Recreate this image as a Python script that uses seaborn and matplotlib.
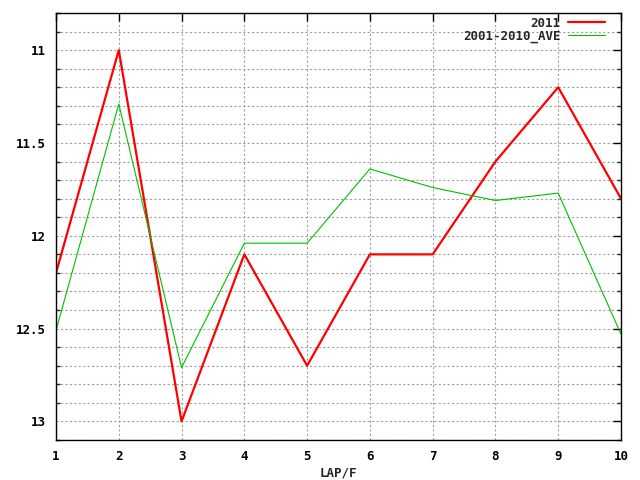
"""
Lap-by-lap values for 2011 against the 2001-2010 average (gnuplot-style chart).
"""

## Import packages
import pandas as pd
import matplotlib
matplotlib.use('Agg')
import matplotlib.pyplot as plt
import seaborn as sns
from matplotlib.ticker import MultipleLocator


## Data
laps = [1, 2, 3, 4, 5, 6, 7, 8, 9, 10]
vals_2011 = [12.2, 11.0, 13.0, 12.1, 12.7, 12.1, 12.1, 11.6, 11.2, 11.8]
vals_ave = [12.51, 11.29, 12.71, 12.04, 12.04, 11.64, 11.74, 11.81, 11.77, 12.53]

df = pd.DataFrame({
    'LAP/F': laps * 2,
    'value': vals_2011 + vals_ave,
    'series': ['2011'] * len(laps) + ['2001-2010_AVE'] * len(laps),
})


## Theme
sns.set_theme(style='white')
plt.rcParams['font.family'] = ['DejaVu Sans Mono', 'DejaVu Sans']
plt.rcParams['font.weight'] = 'bold'
fs = 9

fig = plt.figure(figsize=(6.4, 4.8), dpi=100)
ax = fig.add_axes([56 / 640, 40 / 480, 565 / 640, 427 / 480])

# Lines
sns.lineplot(data=df[df['series'] == '2011'], x='LAP/F', y='value',
             color='#ff0000', linewidth=1.6, label='2011', ax=ax)
sns.lineplot(data=df[df['series'] == '2001-2010_AVE'], x='LAP/F', y='value',
             color='#00c000', linewidth=0.8, label='2001-2010_AVE', ax=ax)

# Axes
ax.set_xlim(1, 10)
ax.set_ylim(13.1, 10.8)
ax.xaxis.set_major_locator(MultipleLocator(1))
ax.yaxis.set_minor_locator(MultipleLocator(0.1))
ax.set_yticks([11, 11.5, 12, 12.5, 13])
ax.set_yticklabels(['11', '11.5', '12', '12.5', '13'])

ax.grid(True, which='both', axis='y', color='#a0a0a0', linestyle=(0, (2, 2)), linewidth=0.8)
ax.grid(True, which='major', axis='x', color='#a0a0a0', linestyle=(0, (2, 2)), linewidth=0.8)
ax.set_axisbelow(True)

for s in ax.spines.values():
    s.set_color('black')
    s.set_linewidth(1.0)

ax.tick_params(which='major', direction='in', length=6, width=1, top=True, right=True,
               labelsize=fs, colors='black', pad=7)
ax.tick_params(which='minor', direction='in', length=3, width=1, left=True, right=True)
ax.tick_params(axis='x', which='minor', bottom=False, top=False)

ax.set_xlabel('LAP/F', fontsize=fs, fontweight='bold', labelpad=3)
ax.set_ylabel('')

# Legend
ax.legend(loc='upper right', bbox_to_anchor=(1 - 12 / 565, 1.0), frameon=False,
          markerfirst=False, fontsize=fs, handlelength=3.0, handletextpad=0.6,
          borderaxespad=0.1, labelspacing=0.0, borderpad=0.2)

plt.savefig('out.png', dpi=100)
